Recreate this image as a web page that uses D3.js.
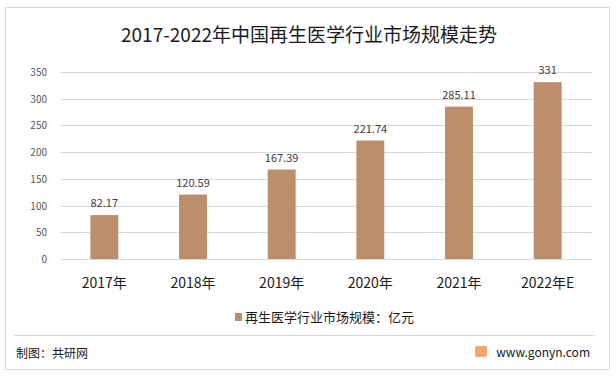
<!DOCTYPE html>
<html>
<head>
<meta charset="utf-8">
<script src="https://cdn.jsdelivr.net/npm/d3@7"></script>
<style>
  body { margin: 0; background: #fff; }
  text { font-family: "Microsoft YaHei", "Noto Sans CJK SC", sans-serif; }
</style>
</head>
<body>
<div id="chart"></div>
<script>
const years = ["2017年", "2018年", "2019年", "2020年", "2021年", "2022年E"];
const values = [82.17, 120.59, 167.39, 221.74, 285.11, 331];
const labels = ["82.17", "120.59", "167.39", "221.74", "285.11", "331"];
const yTicks = [0, 50, 100, 150, 200, 250, 300, 350];

const W = 616, H = 377;
const svg = d3.select("#chart").append("svg")
    .attr("width", W)
    .attr("height", H);

// outer frame
svg.append("rect")
    .attr("x", 5.5).attr("y", 7.5)
    .attr("width", 604).attr("height", 362)
    .attr("fill", "#fff")
    .attr("stroke", "#d9d9d9");

svg.append("text")
    .text("2017-2022年中国再生医学行业市场规模走势")
    .attr("x", 309).attr("y", 42)
    .attr("text-anchor", "middle")
    .attr("font-size", 19)
    .attr("fill", "#1a1a1a");

const x = d3.scaleBand()
    .domain(years)
    .range([60, 592])
    .paddingInner(0.685)
    .paddingOuter(0.3425);

const y = d3.scaleLinear()
    .domain([0, 350])
    .range([259, 72]);

// gridlines
svg.append("g")
    .selectAll("line")
    .data(yTicks)
    .join("line")
    .attr("x1", 60).attr("x2", 592)
    .attr("y1", d => Math.round(y(d)) + 0.5)
    .attr("y2", d => Math.round(y(d)) + 0.5)
    .attr("stroke", "#d9d9d9");

// y axis labels
svg.append("g")
    .selectAll("text")
    .data(yTicks)
    .join("text")
    .text(d => d)
    .attr("x", 47)
    .attr("y", d => y(d) + 4)
    .attr("text-anchor", "end")
    .attr("font-size", 10)
    .attr("fill", "#595959");

svg.append("g")
    .selectAll("rect")
    .data(values)
    .join("rect")
    .attr("x", (d, i) => x(years[i]))
    .attr("width", x.bandwidth())
    .attr("y", d => y(d))
    .attr("height", d => y(0) - y(d))
    .attr("fill", "#bc8e6c");

svg.append("g")
    .selectAll("text")
    .data(values)
    .join("text")
    .text((d, i) => labels[i])
    .attr("x", (d, i) => x(years[i]) + x.bandwidth() / 2)
    .attr("y", d => y(d) - 8)
    .attr("text-anchor", "middle")
    .attr("font-size", 11)
    .attr("fill", "#404040");

svg.append("g")
    .selectAll("text")
    .data(years)
    .join("text")
    .text(d => d)
    .attr("x", d => x(d) + x.bandwidth() / 2)
    .attr("y", 288)
    .attr("text-anchor", "middle")
    .attr("font-size", 14)
    .attr("fill", "#1a1a1a");

// legend
svg.append("rect")
    .attr("x", 235).attr("y", 313)
    .attr("width", 7).attr("height", 8)
    .attr("fill", "#bc8e6c");
svg.append("text")
    .text("再生医学行业市场规模：亿元")
    .attr("x", 245).attr("y", 322)
    .attr("font-size", 13)
    .attr("fill", "#1a1a1a");

// footer
svg.append("line")
    .attr("x1", 14).attr("x2", 595)
    .attr("y1", 335.5).attr("y2", 335.5)
    .attr("stroke", "#d9d9d9");
svg.append("text")
    .text("制图：共研网")
    .attr("x", 16).attr("y", 358)
    .attr("font-size", 12)
    .attr("fill", "#1a1a1a");
svg.append("rect")
    .attr("x", 475).attr("y", 346)
    .attr("width", 12).attr("height", 11)
    .attr("rx", 2)
    .attr("fill", "#f5a66e");
svg.append("text")
    .text("www.gonyn.com")
    .attr("x", 590).attr("y", 357)
    .attr("text-anchor", "end")
    .attr("font-size", 12)
    .attr("fill", "#1a1a1a");
</script>
</body>
</html>
